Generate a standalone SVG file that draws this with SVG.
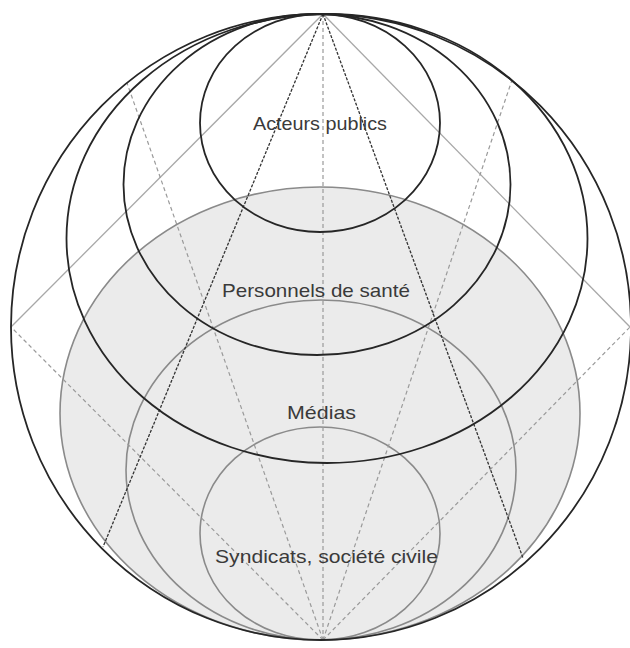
<svg xmlns="http://www.w3.org/2000/svg" width="630" height="648" viewBox="0 0 630 648">
<style>
.zone{fill:#ebebeb;stroke:#8a8a8a;stroke-width:1.6}
.ring{fill:none;stroke:#262626;stroke-width:1.8}
.gs{stroke:#a8a8a8;stroke-width:1.3;fill:none}
.gd{stroke:#9a9a9a;stroke-width:1.2;stroke-dasharray:4 3;fill:none}
.kd{stroke:#333;stroke-width:1.3;stroke-dasharray:3 1.5;fill:none}
.lbl{font-family:"Liberation Sans",Arial,sans-serif;font-size:19px;fill:#3a3a3a;text-anchor:middle}
</style>
<rect width="630" height="648" fill="#fff"/>
<g id="zones">
<ellipse class="zone" cx="320" cy="413.5" rx="260" ry="226.5"/>
<ellipse class="zone" cx="321" cy="470" rx="195" ry="170"/>
<ellipse class="zone" cx="320" cy="533.5" rx="120" ry="106.5"/>
</g>
<g id="connectors">
<line class="gs" x1="323" y1="14" x2="11" y2="327"/>
<line class="gs" x1="323" y1="14" x2="630" y2="327"/>
<line class="gd" x1="323" y1="640" x2="11" y2="327"/>
<line class="gd" x1="323" y1="640" x2="630" y2="327"/>
<line class="gd" x1="323" y1="640" x2="127" y2="83"/>
<line class="gd" x1="323" y1="640" x2="512" y2="80"/>
<line class="gd" x1="323" y1="14" x2="323" y2="640"/>
<line class="kd" x1="323" y1="14" x2="103" y2="547"/>
<line class="kd" x1="323" y1="14" x2="523" y2="558"/>
</g>
<g id="outer">
<ellipse class="ring" cx="321" cy="327" rx="310" ry="313"/>
</g>
<g id="personnels">
<ellipse class="ring" cx="327" cy="238.5" rx="260.5" ry="224.5"/>
</g>
<g id="ring-c">
<ellipse class="ring" cx="317" cy="184.5" rx="193.5" ry="170.5"/>
</g>
<g id="acteurs">
<ellipse class="ring" cx="320" cy="123" rx="120" ry="109"/>
<text class="lbl" x="320" y="130" textLength="134" lengthAdjust="spacingAndGlyphs">Acteurs publics</text>
</g>
<g id="personnels-label">
<text class="lbl" x="316" y="297" textLength="188" lengthAdjust="spacingAndGlyphs">Personnels de santé</text>
</g>
<g id="medias">
<text class="lbl" x="321.5" y="419" textLength="69" lengthAdjust="spacingAndGlyphs">Médias</text>
</g>
<g id="syndicats">
<text class="lbl" x="326.5" y="563" textLength="223" lengthAdjust="spacingAndGlyphs">Syndicats, société civile</text>
</g>
</svg>
